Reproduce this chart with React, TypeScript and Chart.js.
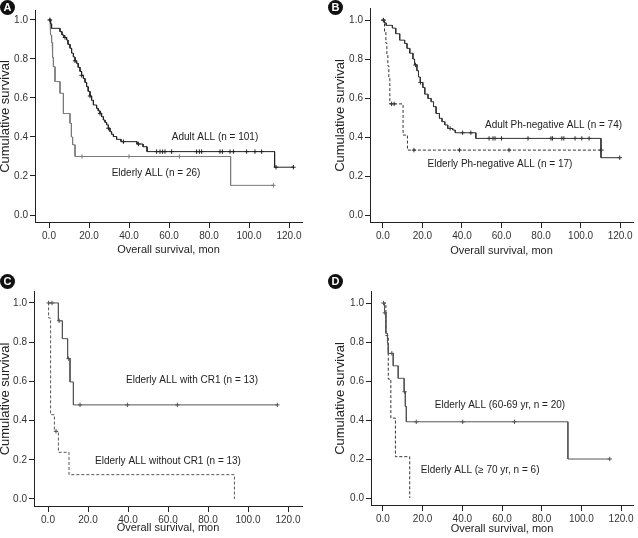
import React, { useEffect, useRef } from "react";
import { Chart, registerables } from "chart.js";

Chart.register(...registerables);

const FONT = "'Liberation Sans', Arial, Helvetica, sans-serif";

// ---------- tick labels ----------
const xTickValues = [0, 20, 40, 60, 80, 100, 120];
const yTickValues = [0, 0.2, 0.4, 0.6, 0.8, 1.0];
const xAxisTitle = "Overall survival, mon";
const yAxisTitle = "Cumulative survival";

// ---------- Panel A ----------
const adultAllTimes = [0.8, 1.3, 5.5, 6.5, 7.5, 8.8, 9.5, 10.5, 11.3, 12.2, 13.0, 13.8, 14.6, 15.5, 16.3, 17.2, 18.0, 18.8, 19.6, 20.5, 21.3, 22.2, 23.8, 24.6, 25.5, 26.3, 27.2, 28.0, 28.8, 29.7, 30.5, 31.3, 32.2, 33.8, 36.0, 44.0, 47.0, 49.0, 112.8];
const adultAllSurv = [0.98, 0.957, 0.94, 0.923, 0.91, 0.897, 0.875, 0.855, 0.83, 0.81, 0.79, 0.778, 0.757, 0.736, 0.716, 0.70, 0.68, 0.658, 0.634, 0.61, 0.588, 0.564, 0.547, 0.534, 0.521, 0.504, 0.487, 0.475, 0.462, 0.445, 0.427, 0.414, 0.402, 0.388, 0.376, 0.364, 0.35, 0.325, 0.245];
const adultAllCensor = [0.5, 8.0, 13.0, 16.3, 20.5, 25.5, 29.7, 37.2, 44.7, 53.8, 55.5, 56.8, 58.0, 61.3, 73.8, 75.2, 76.3, 85.5, 86.7, 90.5, 92.2, 98.8, 103.0, 106.3, 113.5, 122.2];

const elderlyAllTimes = [0.5, 0.9, 1.3, 1.6, 1.9, 2.2, 3.0, 5.5, 7.2, 10.5, 11.2, 11.8, 13.0, 90.8];
const elderlyAllSurv = [0.962, 0.923, 0.885, 0.846, 0.808, 0.76, 0.684, 0.624, 0.52, 0.47, 0.40, 0.36, 0.30, 0.152];
const elderlyAllCensor = [0.3, 16.5, 40.0, 65.2, 112.2];

// ---------- Panel B ----------
const adultPhNegTimes = [0.8, 1.6, 4.8, 6.5, 8.5, 11.0, 12.2, 13.6, 15.2, 16.0, 17.2, 18.0, 18.9, 20.2, 21.2, 22.8, 24.4, 25.6, 26.9, 28.6, 29.9, 31.3, 32.8, 35.3, 36.6, 47.0, 110.3];
const adultPhNegSurv = [0.986, 0.973, 0.959, 0.93, 0.897, 0.88, 0.855, 0.83, 0.80, 0.77, 0.74, 0.708, 0.68, 0.654, 0.62, 0.598, 0.581, 0.556, 0.521, 0.496, 0.479, 0.462, 0.444, 0.436, 0.422, 0.393, 0.294];
const adultPhNegCensor = [0.2, 16.5, 19.0, 34.0, 40.3, 44.5, 53.7, 55.7, 56.7, 60.0, 73.4, 85.0, 85.8, 90.5, 91.5, 97.2, 100.6, 104.3, 119.8];

const elderlyPhNegTimes = [0.8, 1.5, 2.0, 2.5, 3.0, 3.5, 10.2, 12.4];
const elderlyPhNegSurv = [0.941, 0.882, 0.824, 0.765, 0.706, 0.57, 0.41, 0.333];
const elderlyPhNegCensor = [0.3, 4.4, 5.7, 15.7, 38.7, 63.8, 110.5];

// ---------- Panel C ----------
const withCR1Times = [5.2, 7.2, 9.8, 11.0, 12.7];
const withCR1Surv = [0.909, 0.818, 0.716, 0.597, 0.48];
const withCR1Censor = [0.3, 2.0, 5.6, 10.3, 16.0, 39.7, 64.7, 114.7];

const withoutCR1Times = [0.3, 1.3, 3.2, 5.2, 10.5, 93.2];
const withoutCR1Surv = [0.923, 0.43, 0.345, 0.238, 0.124, 0.0];
const withoutCR1Censor = [4.0];

// ---------- Panel D ----------
const age6069Times = [0.8, 1.5, 2.3, 2.7, 5.2, 7.7, 10.7, 11.3, 11.8, 93.2];
const age6069Surv = [0.95, 0.845, 0.795, 0.742, 0.678, 0.614, 0.545, 0.47, 0.391, 0.20];
const age6069Censor = [0.3, 1.0, 4.5, 10.9, 16.8, 40.2, 66.3, 114.3];

const age70Times = [1.5, 2.7, 4.0, 6.3, 13.5];
const age70Surv = [0.833, 0.61, 0.41, 0.212, 0.0];
const age70Censor: number[] = [];

// ---------- helpers ----------
type Series = {
  times: number[];
  surv: number[];
  censor: number[];
  color: string;
  dashed: boolean;
};

function survAt(s: Series, t: number) {
  let v = 1;
  for (let i = 0; i < s.times.length; i++) if (s.times[i] <= t) v = s.surv[i];
  return v;
}

function stepPoints(s: Series) {
  const pts: { x: number; y: number }[] = [{ x: 0, y: 1 }];
  let prev = 1;
  s.times.forEach((t, i) => {
    pts.push({ x: t, y: prev });
    pts.push({ x: t, y: s.surv[i] });
    prev = s.surv[i];
  });
  const lastEvent = s.times.length ? s.times[s.times.length - 1] : 0;
  const end = Math.max(lastEvent, ...s.censor, 0);
  if (end > lastEvent) pts.push({ x: end, y: prev });
  return pts;
}

type PanelCfg = {
  letter: string;
  left: number;
  top: number;
  w: number;
  h: number;
  padLeft: number;
  padTop: number;
  padRight: number;
  padBottom: number;
  axisX: number;
  axisY: number;
  xMin: number;
  xMax: number;
  yMin: number;
  yMax: number;
  series: Series[];
  labels: { text: string; x: number; y: number }[];
};

const panels: PanelCfg[] = [
  {
    letter: "A", left: 0, top: 0, w: 319, h: 269,
    padLeft: -1.5, padTop: 10, padRight: 17, padBottom: 12.4, axisX: 35, axisY: 223,
    xMin: -7, xMax: 126.5, yMin: -0.041, yMax: 1.051,
    series: [
      { times: adultAllTimes, surv: adultAllSurv, censor: adultAllCensor, color: "#222", dashed: false },
      { times: elderlyAllTimes, surv: elderlyAllSurv, censor: elderlyAllCensor, color: "#7a7a7a", dashed: false },
    ],
    labels: [
      { text: "Adult ALL (n = 101)", x: 83, y: 0.40 },
      { text: "Elderly ALL (n = 26)", x: 53.5, y: 0.215 },
    ],
  },
  {
    letter: "B", left: 320, top: 0, w: 318, h: 269,
    padLeft: 13.5, padTop: 8, padRight: 3, padBottom: 11.4, axisX: 50, axisY: 223,
    xMin: -6.53, xMax: 126.5, yMin: -0.041, yMax: 1.062,
    series: [
      { times: adultPhNegTimes, surv: adultPhNegSurv, censor: adultPhNegCensor, color: "#333", dashed: false },
      { times: elderlyPhNegTimes, surv: elderlyPhNegSurv, censor: elderlyPhNegCensor, color: "#333", dashed: true },
    ],
    labels: [
      { text: "Adult Ph-negative ALL (n = 74)", x: 86.3, y: 0.46 },
      { text: "Elderly Ph-negative ALL (n = 17)", x: 59.2, y: 0.26 },
    ],
  },
  {
    letter: "C", left: 0, top: 268, w: 319, h: 270,
    padLeft: -1.5, padTop: 23, padRight: 17, padBottom: 3.9, axisX: 34, axisY: 239,
    xMin: -7, xMax: 127, yMin: -0.041, yMax: 1.061,
    series: [
      { times: withCR1Times, surv: withCR1Surv, censor: withCR1Censor, color: "#555", dashed: false },
      { times: withoutCR1Times, surv: withoutCR1Surv, censor: withoutCR1Censor, color: "#555", dashed: true },
    ],
    labels: [
      { text: "Elderly ALL with CR1 (n = 13)", x: 72, y: 0.607 },
      { text: "Elderly ALL without CR1 (n = 13)", x: 60, y: 0.194 },
    ],
  },
  {
    letter: "D", left: 320, top: 268, w: 318, h: 270,
    padLeft: 14, padTop: 23, padRight: 3, padBottom: 2.4, axisX: 51, axisY: 238,
    xMin: -6, xMax: 126, yMin: -0.041, yMax: 1.062,
    series: [
      { times: age6069Times, surv: age6069Surv, censor: age6069Censor, color: "#555", dashed: false },
      { times: age70Times, surv: age70Surv, censor: age70Censor, color: "#333", dashed: true },
    ],
    labels: [
      { text: "Elderly ALL (60-69 yr, n = 20)", x: 59, y: 0.477 },
      { text: "Elderly ALL (\u2265 70 yr, n = 6)", x: 49, y: 0.144 },
    ],
  },
];

const labelPlugin = {
  id: "curveLabels",
  afterDatasetsDraw(chart: any, _args: any, opts: any) {
    const { ctx } = chart;
    const xs = chart.scales.x;
    const ys = chart.scales.y;
    ctx.save();
    ctx.font = `10px ${FONT}`;
    ctx.fillStyle = "#222";
    ctx.textAlign = "center";
    ctx.textBaseline = "middle";
    (opts.items || []).forEach((it: any) => {
      ctx.fillText(it.text, xs.getPixelForValue(it.x), ys.getPixelForValue(it.y));
    });
    ctx.restore();
  },
};

function Panel({ cfg }: { cfg: PanelCfg }) {
  const ref = useRef<HTMLCanvasElement>(null);
  useEffect(() => {
    if (!ref.current) return;
    const datasets: any[] = [];
    cfg.series.forEach((s) => {
      datasets.push({
        type: "line",
        data: stepPoints(s),
        borderColor: s.color,
        borderWidth: 1,
        borderDash: s.dashed ? [3, 2] : [],
        pointRadius: 0,
        fill: false,
        tension: 0,
      });
      datasets.push({
        type: "line",
        showLine: false,
        data: s.censor.map((t) => ({ x: t, y: survAt(s, t) })),
        pointStyle: "cross",
        pointRadius: 2.2,
        pointBorderWidth: 1,
        pointBorderColor: s.color,
        borderColor: s.color,
      });
    });
    const H = cfg.h;
    const chart = new Chart(ref.current, {
      type: "line",
      data: { datasets },
      plugins: [labelPlugin as any],
      options: {
        animation: false,
        responsive: false,
        maintainAspectRatio: false,
        layout: {
          padding: { left: cfg.padLeft, top: cfg.padTop, right: cfg.padRight, bottom: cfg.padBottom },
        },
        plugins: {
          legend: { display: false },
          tooltip: { enabled: false },
          curveLabels: { items: cfg.labels },
        } as any,
        scales: {
          x: {
            type: "linear",
            min: cfg.xMin,
            max: cfg.xMax,
            border: { display: true, color: "#222", width: 1 },
            grid: { display: true, drawOnChartArea: false, drawTicks: true, tickLength: 5, color: "#222" },
            ticks: {
              font: { size: 10, family: FONT },
              color: "#333",
              padding: 2,
              maxRotation: 0,
              autoSkip: false,
              callback: (v: any) => Number(v).toFixed(1),
            },
            title: {
              display: true,
              text: xAxisTitle,
              font: { size: 11, family: FONT, lineHeight: 1.2 },
              color: "#222",
              padding: 0,
            },
            afterBuildTicks: (sc: any) => {
              sc.ticks = xTickValues.map((v) => ({ value: v }));
            },
            afterFit: (sc: any) => {
              sc.height = H - cfg.padBottom - cfg.axisY;
            },
          },
          y: {
            type: "linear",
            min: cfg.yMin,
            max: cfg.yMax,
            border: { display: true, color: "#222", width: 1 },
            grid: { display: true, drawOnChartArea: false, drawTicks: true, tickLength: 5, color: "#222" },
            ticks: {
              font: { size: 10, family: FONT },
              color: "#333",
              padding: 2,
              autoSkip: false,
              callback: (v: any) => Number(v).toFixed(1),
            },
            title: {
              display: true,
              text: yAxisTitle,
              font: { size: 13, family: FONT, lineHeight: 1 },
              color: "#222",
              padding: 0,
            },
            afterBuildTicks: (sc: any) => {
              sc.ticks = yTickValues.map((v) => ({ value: v }));
            },
            afterFit: (sc: any) => {
              sc.width = cfg.axisX - cfg.padLeft;
            },
          },
        },
      } as any,
    });
    return () => chart.destroy();
  }, [cfg]);

  return (
    <div style={{ position: "absolute", left: cfg.left, top: cfg.top, width: cfg.w, height: cfg.h }}>
      <canvas ref={ref} width={cfg.w} height={cfg.h} style={{ width: cfg.w, height: cfg.h, display: "block" }} />
      <div
        style={{
          position: "absolute",
          left: 0,
          top: cfg.letter === "A" || cfg.letter === "B" ? 0 : 6,
          marginLeft: cfg.letter === "B" || cfg.letter === "D" ? 8 : 0,
          width: 15,
          height: 15,
          borderRadius: "50%",
          background: "#111",
          color: "#fff",
          fontFamily: FONT,
          fontWeight: "bold",
          fontSize: 11,
          lineHeight: "15px",
          textAlign: "center",
        }}
      >
        {cfg.letter}
      </div>
    </div>
  );
}

export default function App() {
  return (
    <div style={{ position: "fixed", left: 0, top: 0, width: 638, height: 538, background: "#fff", overflow: "hidden" }}>
      {panels.map((p) => (
        <Panel key={p.letter} cfg={p} />
      ))}
    </div>
  );
}
